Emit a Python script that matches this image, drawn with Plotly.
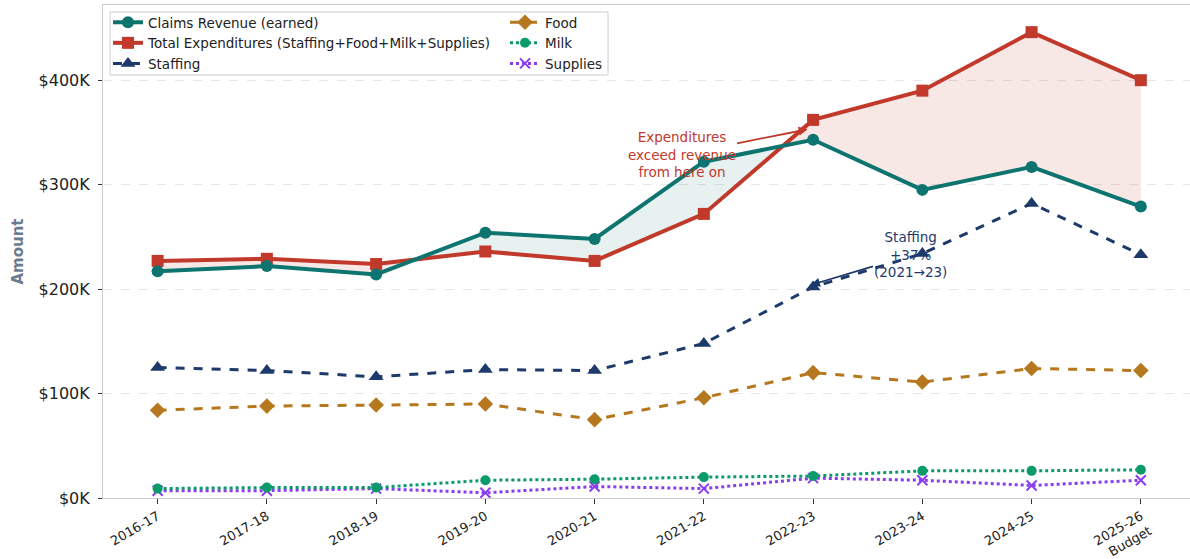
import plotly.graph_objects as go

years = ["2016-17", "2017-18", "2018-19", "2019-20", "2020-21", "2021-22",
         "2022-23", "2023-24", "2024-25", "2025-26<br>Budget"]
claims = [217000, 222000, 214000, 254000, 248000, 322000, 343000, 295000, 317000, 279000]
total_exp = [227000, 229000, 224000, 236000, 227000, 272000, 362000, 390000, 446000, 400000]
staffing = [125000, 122000, 116000, 123000, 122000, 148000, 202000, 234000, 282000, 233000]
food = [84000, 88000, 89000, 90000, 75000, 96000, 120000, 111000, 124000, 122000]
milk = [9000, 10000, 10000, 17000, 18000, 20000, 21000, 26000, 26000, 27000]
supplies = [7000, 7000, 9000, 5000, 11000, 9000, 19000, 17000, 12000, 17000]
y_ticks = [0, 100000, 200000, 300000, 400000]
y_tick_text = ["$0K", "$100K", "$200K", "$300K", "$400K"]

C_CLAIMS = "#0e7470"
C_TOTAL = "#c0392b"
C_STAFF = "#1e3a6b"
C_FOOD = "#b5781f"
C_MILK = "#0a9a6b"
C_SUP = "#8b3cf0"
FONT = "DejaVu Sans"

W, H = 1190, 559
ML, MR, MT, MB = 103, 0, 5, 61
PW, PH = W - ML - MR, H - MT - MB


def px2paper_x(p):
    return (p - ML) / PW


def px2paper_y(p):
    return 1 - (p - MT) / PH


xs = list(range(len(years)))


def segments(a, b):
    polys = []
    cur = []
    cur_sign = None
    for i in range(len(xs)):
        s = a[i] >= b[i]
        if cur_sign is None:
            cur_sign = s
            cur = [(xs[i], a[i], b[i])]
            continue
        if s != cur_sign:
            d0 = a[i - 1] - b[i - 1]
            d1 = a[i] - b[i]
            t = d0 / (d0 - d1)
            xc = xs[i - 1] + t * (xs[i] - xs[i - 1])
            yc = a[i - 1] + t * (a[i] - a[i - 1])
            cur.append((xc, yc, yc))
            polys.append((cur_sign, cur))
            cur = [(xc, yc, yc)]
            cur_sign = s
        cur.append((xs[i], a[i], b[i]))
    polys.append((cur_sign, cur))
    return polys


fig = go.Figure()

for exp_over, pts in segments(total_exp, claims):
    px = [p[0] for p in pts] + [p[0] for p in reversed(pts)]
    py = [p[1] for p in pts] + [p[2] for p in reversed(pts)]
    col = "rgba(192,57,43,0.12)" if exp_over else "rgba(14,116,112,0.10)"
    fig.add_trace(go.Scatter(x=px, y=py, fill="toself", fillcolor=col, mode="none",
                             showlegend=False, hoverinfo="skip"))

fig.add_trace(go.Scatter(x=xs, y=supplies, name="Supplies", mode="lines+markers",
                         line=dict(color=C_SUP, width=3, dash="dot"),
                         marker=dict(symbol="x-thin-open", size=10, line=dict(color=C_SUP, width=2)),
                         legend="legend2", legendrank=3))
fig.add_trace(go.Scatter(x=xs, y=milk, name="Milk", mode="lines+markers",
                         line=dict(color=C_MILK, width=3, dash="dot"),
                         marker=dict(symbol="circle", size=10, color=C_MILK),
                         legend="legend2", legendrank=2))
fig.add_trace(go.Scatter(x=xs, y=food, name="Food", mode="lines+markers",
                         line=dict(color=C_FOOD, width=3, dash="dash"),
                         marker=dict(symbol="diamond", size=12, color=C_FOOD),
                         legend="legend2", legendrank=1))
fig.add_trace(go.Scatter(x=xs, y=staffing, name="Staffing", mode="lines+markers",
                         line=dict(color=C_STAFF, width=3, dash="dash"),
                         marker=dict(symbol="triangle-up", size=13, color=C_STAFF),
                         legend="legend", legendrank=3))
fig.add_trace(go.Scatter(x=xs, y=total_exp, name="Total Expenditures (Staffing+Food+Milk+Supplies)",
                         mode="lines+markers", line=dict(color=C_TOTAL, width=4),
                         marker=dict(symbol="square", size=12, color=C_TOTAL),
                         legend="legend", legendrank=2))
fig.add_trace(go.Scatter(x=xs, y=claims, name="Claims Revenue (earned)", mode="lines+markers",
                         line=dict(color=C_CLAIMS, width=4),
                         marker=dict(symbol="circle", size=12, color=C_CLAIMS),
                         legend="legend", legendrank=1))

fig.add_annotation(x=5.95, y=353000, xref="x", yref="y",
                   text="Expenditures<br>exceed revenue<br>from here on",
                   showarrow=True, ax=-126, ay=25, arrowhead=2, arrowsize=1, arrowwidth=1.8,
                   arrowcolor=C_TOTAL, font=dict(family=FONT, size=13.5, color=C_TOTAL),
                   align="center")
fig.add_annotation(x=5.98, y=204000, xref="x", yref="y",
                   text="Staffing<br>+37%<br>(2021→23)",
                   showarrow=True, ax=100, ay=-30, arrowhead=2, arrowsize=1, arrowwidth=1.8,
                   arrowcolor=C_STAFF, font=dict(family=FONT, size=13.5, color=C_STAFF),
                   align="center")

# legend frame (matplotlib-style single box around two columns)
fig.add_shape(type="rect", xref="paper", yref="paper", layer="above",
              x0=px2paper_x(110), x1=px2paper_x(608), y0=px2paper_y(75), y1=px2paper_y(12),
              line=dict(color="#cccccc", width=1), fillcolor="rgba(255,255,255,0.85)")

legend_common = dict(orientation="v", xanchor="left", yanchor="top",
                     bgcolor="rgba(0,0,0,0)", borderwidth=0,
                     font=dict(family=FONT, size=13.5, color="#222"),
                     itemwidth=30, tracegroupgap=0, traceorder="normal")

fig.update_layout(
    width=W, height=H,
    margin=dict(l=ML, r=MR, t=MT, b=MB, autoexpand=False),
    paper_bgcolor="white", plot_bgcolor="white",
    font=dict(family=FONT, size=14, color="#222"),
    showlegend=True,
    legend=dict(x=px2paper_x(108), y=px2paper_y(7), **legend_common),
    legend2=dict(x=px2paper_x(505), y=px2paper_y(7), **legend_common),
    xaxis=dict(range=[-0.5, 9.45], tickmode="array", tickvals=xs, ticktext=years,
               tickangle=-30, showgrid=False, zeroline=False, automargin=False,
               showline=True, linecolor="#cccccc", linewidth=1, mirror=True,
               ticks="outside", ticklen=5, tickcolor="#333",
               tickfont=dict(family=FONT, size=13, color="#222")),
    yaxis=dict(range=[0, 472000], tickmode="array", tickvals=y_ticks, ticktext=y_tick_text,
               showgrid=True, gridcolor="#e6e6e6", griddash="dash", gridwidth=1,
               zeroline=False, showline=True, linecolor="#cccccc", linewidth=1,
               automargin=False, ticklabelstandoff=5,
               ticks="outside", ticklen=4, tickcolor="#333",
               tickfont=dict(family=FONT, size=16, color="#222"),
               title=dict(text="<b>Amount</b>", font=dict(family=FONT, size=15, color="#6b7b8f"),
                          standoff=11)),
)

fig.write_html("out.html", config={"displayModeBar": False},
               post_script="document.body.style.margin='0';")
